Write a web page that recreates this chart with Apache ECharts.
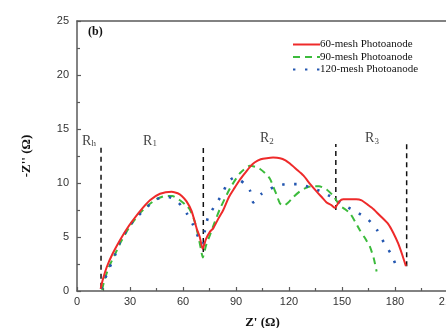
<!DOCTYPE html>
<html><head><meta charset="utf-8">
<script src="https://cdn.jsdelivr.net/npm/echarts@6/dist/echarts.min.js"></script>
<style>html,body{margin:0;padding:0;background:#fff}#c{width:446px;height:328px}</style>
</head><body><div id="c"></div>
<script>
const seriesNames = ['60-mesh Photoanode', '90-mesh Photoanode', '120-mesh Photoanode'];
const mesh60 = [[13.4,0.2],[14.5,1.0],[16.8,2.2],[20,3.4],[24.3,4.7],[28,5.7],[31,6.4],[35.7,7.4],[41.3,8.4],[47,9.0],[53.6,9.2],[57,9.05],[59.3,8.8],[62,8.3],[64.9,7.4],[67.7,5.8],[69.5,5.0],[71.1,3.9],[73,4.8],[75.3,5.5],[77.1,5.8],[80,6.7],[82.8,7.5],[86,8.7],[89,9.5],[92.2,10.3],[95,10.9],[97.9,11.5],[100.5,11.9],[104,12.2],[107.4,12.3],[111,12.35],[114.9,12.3],[118,12.1],[120.5,11.8],[124,11.3],[128.1,10.7],[132,9.9],[135.7,9.2],[138.5,8.7],[141.3,8.2],[144,7.95],[146,7.7],[148.5,8.3],[150.7,8.5],[155,8.5],[158,8.5],[161.1,8.4],[164.5,8.0],[167.7,7.6],[172,6.9],[176.2,6.2],[179,5.4],[181.8,4.4],[184,3.4],[186.2,2.3]];
const mesh90 = [[14.2,0.1],[15.5,1.0],[18,2.2],[21.5,3.4],[25,4.6],[30,6.0],[35,7.1],[40,7.9],[45,8.5],[50,8.8],[54,8.8],[58.3,8.4],[62,7.9],[64,7.5],[66.5,6.5],[68.5,5.2],[70,4.0],[71.2,3.1],[73,4.2],[75.3,5.2],[78,6.4],[80.9,7.6],[86.6,9.5],[92.2,10.9],[97.9,11.6],[101,11.5],[103.6,11.3],[106.5,10.9],[109.2,10.4],[111,9.7],[113,8.9],[114.9,8.1],[117,7.9],[119.6,8.2],[122.4,8.7],[126,9.2],[129,9.5],[132.8,9.7],[137,9.7],[141.3,9.4],[145.1,8.8],[148.8,7.9],[151.5,7.6],[154.5,7.2],[157.5,6.4],[160.2,5.6],[163,4.9],[165.8,4.1],[168,3.0],[169.6,1.8]];
const mesh120 = [[13.6,0.2],[15.8,1.1],[18.5,2.2],[21.5,3.3],[24.3,4.5],[28,5.6],[31.9,6.5],[38.5,7.6],[45.1,8.5],[51.7,8.7],[55,8.5],[57.4,8.2],[60,7.7],[62.1,7.2],[65.8,6.1],[68.6,5.0],[71.2,4.3],[72.4,5.6],[74.3,6.9],[78.1,7.9],[81.9,8.9],[85.6,10.1],[89,10.5],[91.3,10.4],[95,9.9],[97.9,9.3],[99.8,8.2],[102,8.6],[104.5,9.0],[111.1,9.6],[118.7,9.9],[125.3,9.9],[131.9,9.6],[138.5,9.2],[145.1,8.6],[151.7,7.9],[158.3,7.3],[164.9,6.6],[170,5.6],[173.7,4.5],[177.5,3.5],[180.5,2.4]];
// region divider lines: x position, bottom, top
const dividerX = [13.6, 71.5, 146.5, 186.6];
const dividerBottom = [0.3, 3.6, 7.5, 2.3];
const dividerTop = [13.5, 13.5, 13.6, 13.6];
// region labels
const regionSub = ['h', '1', '2', '3'];
const regionX = [6.8, 41.3, 107.5, 167];
const regionY = [13.9, 13.9, 14.1, 14.1];
const xTicks = [0, 30, 60, 90, 120, 150, 180, 210];
const yTicks = [0, 5, 10, 15, 20, 25];

const serif = 'Liberation Serif';
const sans = 'Liberation Sans';
const axisColor = '#5a5a5a';

const chart = echarts.init(document.getElementById('c'), null, {renderer: 'canvas'});

const dividerSeries = dividerX.map((x, i) => ({
  type: 'line', silent: true, symbol: 'none', animation: false,
  data: [[x, dividerBottom[i]], [x, dividerTop[i]]],
  lineStyle: {color: '#111', width: 1.5, type: [5, 4]}, z: 1
}));

chart.setOption({
  animation: false,
  title: {text: '(b)', left: 83, top: 21, textStyle: {fontFamily: serif, fontWeight: 'bold', fontSize: 12, color: '#111'}},
  legend: {
    orient: 'vertical', left: 292, top: 39, padding: 0, itemWidth: 27, itemHeight: 12, itemGap: 1.5,
    data: seriesNames,
    itemStyle: {opacity: 0},
    textStyle: {fontFamily: serif, fontSize: 11, color: '#111', padding: [0, 0, 0, -5]}
  },
  grid: {left: 77, top: 21, width: 371, height: 270, outerBoundsMode: 'none', containLabel: false},
  xAxis: [{
    type: 'value', min: xTicks[0], max: xTicks[xTicks.length - 1], interval: 30,
    name: "Z' (Ω)", nameLocation: 'middle', nameGap: 25,
    nameTextStyle: {fontFamily: serif, fontWeight: 'bold', fontSize: 13, color: '#111'},
    axisLine: {lineStyle: {color: axisColor, width: 1.5}},
    axisTick: {inside: true, length: 4, lineStyle: {color: axisColor, width: 1.2}},
    minorTick: {show: true, splitNumber: 2, length: 3, lineStyle: {color: axisColor, width: 1.2}},
    axisLabel: {fontFamily: sans, fontSize: 11, color: '#333', margin: 5},
    splitLine: {show: false}
  }, {
    type: 'value', position: 'top', min: 0, max: 210,
    axisLine: {show: true, lineStyle: {color: axisColor, width: 1.5}},
    axisTick: {show: false}, axisLabel: {show: false}, splitLine: {show: false}
  }],
  yAxis: {
    type: 'value', min: yTicks[0], max: yTicks[yTicks.length - 1], interval: 5,
    name: "-Z'' (Ω)", nameLocation: 'middle', nameGap: 44, nameRotate: 90,
    nameTextStyle: {fontFamily: serif, fontWeight: 'bold', fontSize: 13, color: '#111'},
    axisLine: {show: true, lineStyle: {color: axisColor, width: 1.5}},
    axisTick: {show: true, inside: true, length: 4, lineStyle: {color: axisColor, width: 1.2}},
    minorTick: {show: true, splitNumber: 2, length: 3, lineStyle: {color: axisColor, width: 1.2}},
    axisLabel: {fontFamily: sans, fontSize: 11, color: '#333', margin: 8},
    splitLine: {show: false}
  },
  series: [
    {name: seriesNames[0], type: 'line', data: mesh60, symbol: 'none', smooth: 0.2,
     lineStyle: {color: '#ee2a2a', width: 2}, itemStyle: {color: '#ee2a2a'}, z: 3},
    {name: seriesNames[1], type: 'line', data: mesh90, symbol: 'none', smooth: 0.2,
     lineStyle: {color: '#3cbb3c', width: 2, type: [7, 5]}, itemStyle: {color: '#3cbb3c'}, z: 2},
    {name: seriesNames[2], type: 'line', data: mesh120, symbol: 'none', smooth: 0.2,
     lineStyle: {color: '#2457b0', width: 2.6, type: [2.4, 9.6]}, itemStyle: {color: '#2457b0'}, z: 2},
    ...dividerSeries,
    {type: 'scatter', symbolSize: 0, silent: true,
     data: regionX.map((x, i) => [x, regionY[i], regionSub[i]]),
     label: {show: true, position: 'inside',
       formatter: p => '{r|R}{s|' + p.data[2] + '}',
       rich: {
         r: {fontFamily: serif, fontSize: 14, color: '#111'},
         s: {fontFamily: serif, fontSize: 9, color: '#111', padding: [5, 0, 0, 0]}
       }}}
  ]
});
</script></body></html>
